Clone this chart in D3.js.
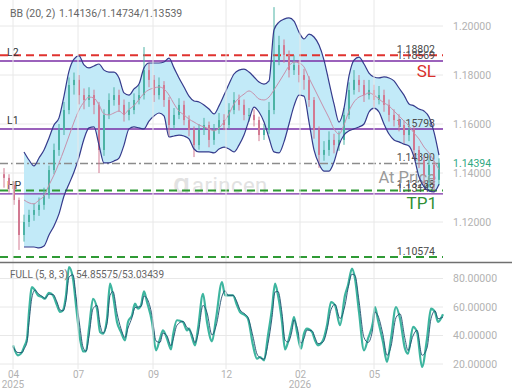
<!DOCTYPE html>
<html><head><meta charset="utf-8">
<script src="https://cdn.jsdelivr.net/npm/d3@7"></script>
<style>body{margin:0;background:#fff;} svg{display:block;font-family:Roboto,"Noto Sans",sans-serif;}</style>
</head><body><svg id="c" width="520" height="390"></svg>
<script>
// ---------------- data ----------------
const firstOpen = 1.1395;
const closes = [1.1380,1.1351,1.1290,1.1147,1.1200,1.1229,1.1249,1.1270,1.1310,1.1412,
1.1494,1.1576,1.1657,1.1759,1.1780,1.1718,1.1698,1.1718,1.1678,1.1494,
1.1637,1.1698,1.1718,1.1678,1.1637,1.1657,1.1698,1.1718,1.1820,1.1780,
1.1718,1.1759,1.1698,1.1596,1.1637,1.1678,1.1616,1.1576,1.1514,1.1576,
1.1596,1.1535,1.1576,1.1616,1.1596,1.1657,1.1698,1.1678,1.1637,1.1637,
1.1616,1.1555,1.1576,1.1657,1.1861,1.1922,1.1882,1.1820,1.1841,1.1800,
1.1780,1.1698,1.1576,1.1474,1.1494,1.1535,1.1514,1.1535,1.1637,1.1739,
1.1780,1.1759,1.1718,1.1739,1.1698,1.1718,1.1678,1.1637,1.1616,1.1596,
1.1555,1.1576,1.1494,1.1453,1.1392,1.1433,1.1372,1.14394];
const highs = [1.1420,1.1395,1.1365,1.1300,1.1230,1.1250,1.1275,1.1300,1.1340,1.1430,
1.1520,1.1600,1.1690,1.1790,1.1810,1.1800,1.1745,1.1750,1.1740,1.1690,
1.1660,1.1725,1.1750,1.1740,1.1700,1.1690,1.1725,1.1760,1.1914,1.1850,
1.1800,1.1790,1.1775,1.1710,1.1665,1.1705,1.1695,1.1635,1.1590,1.1600,
1.1625,1.1610,1.1600,1.1645,1.1640,1.1685,1.1730,1.1720,1.1700,1.1665,
1.1660,1.1630,1.1600,1.1690,1.2077,1.1960,1.1945,1.1900,1.1880,1.1860,
1.1825,1.1795,1.1710,1.1590,1.1530,1.1570,1.1560,1.1570,1.1665,1.1770,
1.1820,1.1800,1.1780,1.1780,1.1760,1.1755,1.1740,1.1700,1.1660,1.1640,
1.1615,1.1600,1.1590,1.1510,1.1470,1.1455,1.1450,1.1460];
const lows = [1.1340,1.1320,1.1270,1.1086,1.1120,1.1180,1.1205,1.1225,1.1250,1.1295,
1.1395,1.1470,1.1555,1.1640,1.1720,1.1680,1.1660,1.1670,1.1640,1.1400,
1.1470,1.1620,1.1675,1.1650,1.1610,1.1615,1.1640,1.1680,1.1700,1.1750,
1.1690,1.1700,1.1670,1.1547,1.1580,1.1620,1.1595,1.1550,1.1465,1.1495,
1.1555,1.1505,1.1515,1.1560,1.1575,1.1580,1.1640,1.1655,1.1615,1.1610,
1.1590,1.1530,1.1535,1.1560,1.1640,1.1840,1.1850,1.1790,1.1800,1.1770,
1.1740,1.1670,1.1540,1.1421,1.1450,1.1470,1.1480,1.1490,1.1515,1.1620,
1.1720,1.1730,1.1690,1.1700,1.1670,1.1680,1.1650,1.1610,1.1590,1.1570,
1.1520,1.1530,1.1460,1.1420,1.1350,1.1340,1.1330,1.1350];

const bbStart = 4;
const bbUpper = [1.1486,1.1453,1.1429,1.1461,1.1494,1.1543,1.1596,1.1625,1.1714,1.1816,
1.1865,1.1878,1.1841,1.1829,1.1837,1.1845,1.1820,1.1812,1.1812,1.1788,
1.1727,1.1718,1.1743,1.1763,1.1829,1.1849,1.1849,1.1849,1.1853,1.1869,
1.1829,1.1788,1.1751,1.1714,1.1694,1.1690,1.1678,1.1661,1.1641,1.1674,
1.1718,1.1763,1.1804,1.1820,1.1824,1.1812,1.1792,1.1771,1.1763,1.1776,
1.1984,1.2016,1.2028,1.2033,1.2020,1.1975,1.1947,1.1967,1.1955,1.1922,
1.1861,1.1771,1.1682,1.1608,1.1665,1.1796,1.1861,1.1873,1.1845,1.1808,
1.1792,1.1788,1.1792,1.1788,1.1776,1.1747,1.1718,1.1682,1.1674,1.1661,
1.1653,1.1629,1.1567,1.1473];
const bbMiddle = [1.1290,1.1278,1.1274,1.1290,1.1306,1.1351,1.1392,1.1441,1.1494,1.1551,
1.1608,1.1657,1.1690,1.1710,1.1706,1.1678,1.1641,1.1637,1.1645,1.1653,
1.1640,1.1660,1.1675,1.1700,1.1725,1.1740,1.1747,1.1751,1.1743,1.1718,
1.1682,1.1653,1.1637,1.1620,1.1608,1.1596,1.1588,1.1580,1.1572,1.1584,
1.1608,1.1641,1.1682,1.1706,1.1722,1.1735,1.1722,1.1702,1.1698,1.1710,
1.1739,1.1771,1.1804,1.1837,1.1853,1.1849,1.1833,1.1788,1.1747,1.1706,
1.1665,1.1625,1.1580,1.1559,1.1596,1.1653,1.1690,1.1710,1.1718,1.1727,
1.1718,1.1702,1.1686,1.1674,1.1653,1.1633,1.1612,1.1592,1.1563,1.1539,
1.1506,1.1482,1.1449,1.1414];
const bbLower = [1.1098,1.1098,1.1098,1.1094,1.1102,1.1147,1.1184,1.1233,1.1306,1.1355,
1.1404,1.1465,1.1539,1.1584,1.1588,1.1514,1.1441,1.1441,1.1449,1.1461,
1.1514,1.1580,1.1588,1.1584,1.1580,1.1612,1.1633,1.1645,1.1633,1.1547,
1.1551,1.1555,1.1551,1.1539,1.1498,1.1486,1.1486,1.1486,1.1482,1.1498,
1.1506,1.1498,1.1486,1.1514,1.1555,1.1616,1.1669,1.1649,1.1608,1.1543,
1.1486,1.1482,1.1527,1.1600,1.1674,1.1718,1.1714,1.1608,1.1494,1.1437,
1.1408,1.1408,1.1445,1.1514,1.1555,1.1572,1.1580,1.1588,1.1600,1.1649,
1.1665,1.1649,1.1600,1.1559,1.1535,1.1527,1.1518,1.1510,1.1465,1.1384,
1.1343,1.1327,1.1323,1.1354];

// stochastic (time in bar-index units)
const oscT = [1.8,2.8,3.6,4,4.6,5,5.6,6.2,6.8,7.6,
8.2,8.6,9,9.8,10.6,11.2,11.8,12.4,13,13.8,
14.4,15.2,15.8,16.4,17,17.8,18.6,19.2,19.8,20.6,
21.2,21.8,22.6,23.4,24.2,24.8,25.6,26.2,26.8,27.4,
28,28.6,29.6,30.4,31.2,31.8,32.6,33.4,33.8,34.6,
35.8,36.6,37,37.6,38.2,38.8,39.8,40.6,41.6,42.4,
43.6,44.2,44.8,45.8,46.6,47.2,48.2,48.8,49.8,50.6,
51.2,52,52.8,53.6,54.2,54.8,55.6,56.2,56.8,57.6,
58,58.6,59.4,60,60.6,61.6,62.2,62.8,63.8,64.6,
65.4,66.2,67.2,68.2,68.8,69.6,70.2,71,72,72.8,
73.8,74.2,74.8,75.8,76.6,77.4,78.4,79.2,80.2,80.8,
81.8,82.6,83.6,84.6,85.4,86.2,86.8,87.8];
const oscK = [33.1,26.1,28.4,31.9,37.8,56.5,74,71.7,68.2,67,
65.8,68.2,70,68.2,61.2,56.5,57.7,68.2,88,79.9,
61.2,37.8,28.9,28.9,44.8,65.8,58.8,42.5,41.3,51.8,
76.4,68.2,49.5,42.5,36.6,49.5,54.2,62.3,58.8,61.2,
71,63.5,49.5,29.6,37.8,43.6,37.8,30.3,40.1,50.7,
49.5,43.6,44.8,38.9,33.1,44.8,69.3,49.5,35.9,51.8,
77.5,68.2,68.2,68.2,61.2,56.5,54.2,51.8,33.1,23.7,
24.9,22.6,40.1,58.8,76.4,68.2,49.5,30.3,35.4,47.2,
53,42.5,30.7,41.3,44.8,42.5,36.6,33.1,36.6,47.2,
63.5,61.2,47.2,68.2,75.2,86.9,79.9,56.5,29.6,37.8,
49.5,60,50.7,35.4,21.4,37.8,60,51.8,30.7,27.2,
46,42.5,17.9,37.8,58.8,56.5,49.5,54.9];
const oscD = [32,28,28,30.5,35.5,49,67,72,69.5,67.5,
66,67.5,69,68.8,63.5,58,57.3,64.5,81,82.6,
67.4,45.6,31.9,28.9,39.5,58.8,61.1,47.9,41.7,48.3,
68.2,70.9,55.7,44.8,38.6,45.2,52.6,59.6,60,60.4,
67.7,66,54.2,36.2,35.1,41.7,39.7,32.8,36.8,47.2,
49.9,45.6,44.4,40.9,35,40.9,61.1,56.1,40.4,46.5,
67.6,71.5,68.2,68.2,63.5,58.1,55,52.6,39.3,27,
24.5,23.4,34.3,52.6,70.5,70.9,55.7,36.7,35.4,43.3,
51,46,34.6,38,43.8,43.3,38.6,34.3,35.4,43.9,
58.1,61.9,51.9,61.2,72.9,83,82.2,64.3,38.6,35.1,
45.6,56.5,53.8,40.5,26.1,32.3,52.6,55.2,37.7,29.4,
39.7,43.7,26.1,31.2,51.8,57.3,51.8,53.0];

const priceTicks = [1.10,1.12,1.14,1.16,1.18,1.20];
const oscTicks = [20,40,60,80];
const dateTickIdx = [1.8,14.8,29.8,44.4,59.2,74];
const dateTickLabels = ["04","07","09","12","02","05"];
const dateTickYears = ["2025","","","","2026",""];

const levelValues = [1.18802,1.18569,1.15798,1.14390,1.13288,1.13147,1.10574];
const levelKinds  = ["sl","line","line","price","tp","line","tp"];
const lastPrice = 1.14394;
const bbHeader = "1.14136/1.14734/1.13539";
const oscHeader = "54.85575/53.03439";

// ---------------- chart ----------------
const W=520,H=390, plotR=443, mainBot=262, oscTop=263, oscBot=368;
const svg=d3.select("#c");
const x=d3.scaleLinear().domain([0,87]).range([4,439]);
const y=d3.scaleLinear().domain([1.10,1.20]).range([271,26]);
const yo=d3.scaleLinear().domain([20,80]).range([364,278.5]);

const defs=svg.append("defs");
defs.append("clipPath").attr("id","cm").append("rect").attr("x",0).attr("y",0).attr("width",W).attr("height",mainBot);
defs.append("clipPath").attr("id","co").append("rect").attr("x",0).attr("y",oscTop).attr("width",W).attr("height",oscBot-oscTop);

const gm=svg.append("g").attr("clip-path","url(#cm)");
const go=svg.append("g").attr("clip-path","url(#co)");

// grids
gm.append("g").selectAll("line").data(priceTicks).join("line")
  .attr("x1",0).attr("x2",plotR).attr("y1",d=>y(d)).attr("y2",d=>y(d))
  .attr("stroke","#e8e8e8").attr("stroke-width",1);
go.append("g").selectAll("line").data(oscTicks).join("line")
  .attr("x1",0).attr("x2",plotR).attr("y1",d=>yo(d)).attr("y2",d=>yo(d))
  .attr("stroke","#e8e8e8").attr("stroke-width",1);
svg.append("g").selectAll("line").data(dateTickIdx).join("line")
  .attr("x1",d=>x(d)).attr("x2",d=>x(d)).attr("y1",0).attr("y2",369)
  .attr("stroke","#e8e8e8").attr("stroke-width",1);

// watermark
const wm=gm.append("g").attr("fill","#e2e2e2");
wm.append("text").attr("x",173).attr("y",193).attr("font-size",22).attr("font-weight",700).text("Ɑ");
wm.append("text").attr("x",192).attr("y",193).attr("font-size",22).attr("letter-spacing",0.5).text("arincen");

// bollinger fill
const bb=bbUpper.map((u,i)=>({i:i+bbStart,u,m:bbMiddle[i],l:bbLower[i]}));
const curve=d3.curveMonotoneX;
gm.append("path").datum(bb).attr("fill","#bfe9f8").attr("fill-opacity",0.95)
  .attr("d",d3.area().x(d=>x(d.i)).y0(d=>y(d.l)).y1(d=>y(d.u)).curve(curve));

// levels
const lvlStyle={
  sl:{c:"#e0332f",w:2,dash:"8,5"},
  line:{c:"#7a2ea6",w:1.4,dash:null},
  price:{c:"#8c8c8c",w:1.4,dash:"8,3,2,3"},
  tp:{c:"#2f9a35",w:2,dash:"8,5"}
};
const lv=levelValues.map((v,i)=>({v,k:levelKinds[i]}));
gm.append("g").selectAll("line").data(lv).join("line")
  .attr("x1",0).attr("x2",plotR).attr("y1",d=>y(d.v)).attr("y2",d=>y(d.v))
  .attr("stroke",d=>lvlStyle[d.k].c).attr("stroke-width",d=>lvlStyle[d.k].w)
  .attr("stroke-dasharray",d=>lvlStyle[d.k].dash);
gm.append("g").selectAll("text").data(lv).join("text")
  .attr("x",435).attr("y",d=>y(d.v)-2).attr("text-anchor","end")
  .attr("font-size",10.5).attr("fill","#4a4a4a").text(d=>d3.format(".5f")(d.v));

// big labels
gm.append("text").attr("x",436).attr("y",y(levelValues[1])+16).attr("text-anchor","end")
  .attr("font-size",17).attr("fill","#d9302c").text("SL");
gm.append("text").attr("x",436).attr("y",y(levelValues[3])+20).attr("text-anchor","end")
  .attr("font-size",16.5).attr("fill","#9a9a9a").text("At Price");
gm.append("text").attr("x",437).attr("y",y(levelValues[5])+15).attr("text-anchor","end")
  .attr("font-size",17).attr("fill","#2f8f35").text("TP1");
gm.append("text").attr("x",7).attr("y",y(levelValues[0])+1).attr("font-size",10.5).attr("fill","#333").text("L2");
gm.append("text").attr("x",7).attr("y",y(levelValues[2])-5).attr("font-size",10.5).attr("fill","#333").text("L1");
gm.append("text").attr("x",7).attr("y",y(levelValues[4])-1).attr("font-size",10.5).attr("fill","#333").text("HP");

// candles
const candles=closes.map((c,i)=>({i,o:i?closes[i-1]:firstOpen,c,h:highs[i],l:lows[i]}));
const cg=gm.append("g");
cg.selectAll("line").data(candles).join("line")
  .attr("x1",d=>x(d.i)).attr("x2",d=>x(d.i)).attr("y1",d=>y(d.h)).attr("y2",d=>y(d.l))
  .attr("stroke",d=>d.c>=d.o?"#4cb3a5":"#d27a92").attr("stroke-width",1);
cg.selectAll("rect").data(candles).join("rect")
  .attr("x",d=>x(d.i)-1).attr("width",2)
  .attr("y",d=>y(Math.max(d.o,d.c))).attr("height",d=>Math.max(1,Math.abs(y(d.o)-y(d.c))))
  .attr("fill",d=>d.c>=d.o?"#4cb3a5":"#d27a92");

// bollinger lines
gm.append("path").datum(bb).attr("fill","none").attr("stroke","#c790ab").attr("stroke-width",1)
  .attr("d",d3.line().x(d=>x(d.i)).y(d=>y(d.m)).curve(curve));
gm.append("path").datum(bb).attr("fill","none").attr("stroke","#363b8c").attr("stroke-width",1.2)
  .attr("d",d3.line().x(d=>x(d.i)).y(d=>y(d.u)).curve(curve));
gm.append("path").datum(bb).attr("fill","none").attr("stroke","#363b8c").attr("stroke-width",1.2)
  .attr("d",d3.line().x(d=>x(d.i)).y(d=>y(d.l)).curve(curve));

// price axis
const ga=gm.append("g").attr("transform",`translate(${plotR},0)`)
  .call(d3.axisRight(y).tickValues(priceTicks).tickFormat(d3.format(".5f")).tickSize(0).tickPadding(10));
ga.select(".domain").remove();
ga.selectAll("text").attr("fill","#b2b2b2").attr("font-size",10.5).attr("font-family","Roboto,sans-serif");
gm.append("text").attr("x",453).attr("y",y(lastPrice)+4).attr("font-size",10.5).attr("fill","#30a882")
  .text(d3.format(".5f")(lastPrice));

// headers
const h1=svg.append("text").attr("x",10).attr("y",17).attr("font-size",10.5).attr("fill","#666");
h1.append("tspan").text("BB (20, 2)");
h1.append("tspan").attr("x",59).text(bbHeader);

// separator
svg.append("line").attr("x1",0).attr("x2",512).attr("y1",262.5).attr("y2",262.5).attr("stroke","#707070").attr("stroke-width",1.5);

// oscillator
const osc=oscT.map((t,i)=>({t,k:oscK[i],d:oscD[i]}));
go.append("path").datum(osc).attr("fill","none").attr("stroke","#3db59f").attr("stroke-width",2.2)
  .attr("d",d3.line().x(d=>x(d.t)).y(d=>yo(d.k)).curve(d3.curveMonotoneX));
go.append("path").datum(osc).attr("fill","none").attr("stroke","#1f4e6e").attr("stroke-width",0.9)
  .attr("d",d3.line().x(d=>x(d.t)).y(d=>yo(d.d)).curve(d3.curveMonotoneX));

const gao=go.append("g").attr("transform",`translate(${plotR},0)`)
  .call(d3.axisRight(yo).tickValues(oscTicks).tickFormat(d3.format(".5f")).tickSize(0).tickPadding(10));
gao.select(".domain").remove();
gao.selectAll("text").attr("fill","#b2b2b2").attr("font-size",10.5).attr("font-family","Roboto,sans-serif");

const h2=svg.append("text").attr("x",10).attr("y",278).attr("font-size",10).attr("fill","#666");
h2.append("tspan").text("FULL (5, 8, 3)");
h2.append("tspan").attr("x",76).text(oscHeader);

// date axis
const gd=svg.append("g").attr("transform","translate(0,369)")
  .call(d3.axisBottom(x).tickValues(dateTickIdx).tickFormat((d,i)=>dateTickLabels[i]).tickSize(0).tickPadding(2));
gd.select(".domain").remove();
gd.selectAll("text").attr("fill","#b2b2b2").attr("font-size",10).attr("font-family","Roboto,sans-serif");
svg.append("g").selectAll("text").data(dateTickIdx).join("text")
  .attr("x",d=>x(d)).attr("y",387.5).attr("text-anchor","middle").attr("font-size",10).attr("fill","#b2b2b2")
  .text((d,i)=>dateTickYears[i]);
</script></body></html>
